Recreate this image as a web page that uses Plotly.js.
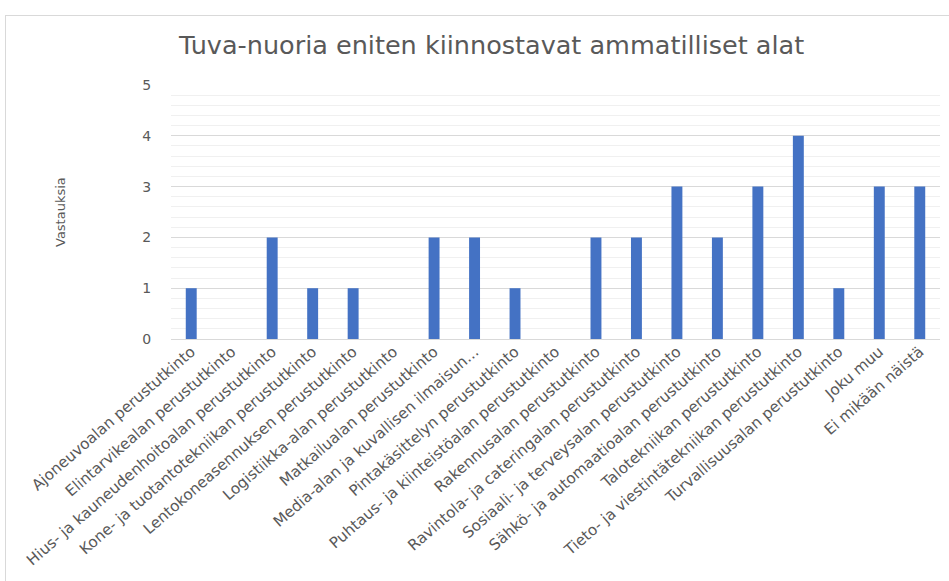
<!DOCTYPE html>
<html lang="fi">
<head>
    <meta charset="UTF-8">
    <title>Tuva-nuoria eniten kiinnostavat ammatilliset alat</title>
    <script src="https://cdn.plot.ly/plotly-3.0.1.min.js"></script>
    <style>
        body, html {
            margin: 0;
            padding: 0;
            background: white;
        }
        #chart {
            width: 949px;
            height: 581px;
        }
        .frame {
            position: absolute;
            left: 5px;
            top: 15px;
            width: 1000px;
            height: 700px;
            border: 1px solid #d9d9d9;
            pointer-events: none;
        }
    </style>
</head>
<body>
    <div id="chart"></div>
    <div class="frame"></div>
    <script>
        const categories = [
            'Ajoneuvoalan perustutkinto',
            'Elintarvikealan perustutkinto',
            'Hius- ja kauneudenhoitoalan perustutkinto',
            'Kone- ja tuotantotekniikan perustutkinto',
            'Lentokoneasennuksen perustutkinto',
            'Logistiikka-alan perustutkinto',
            'Matkailualan perustutkinto',
            'Media-alan ja kuvallisen ilmaisun...',
            'Pintakäsittelyn perustutkinto',
            'Puhtaus- ja kiinteistöalan perustutkinto',
            'Rakennusalan perustutkinto',
            'Ravintola- ja cateringalan perustutkinto',
            'Sosiaali- ja terveysalan perustutkinto',
            'Sähkö- ja automaatioalan perustutkinto',
            'Talotekniikan perustutkinto',
            'Tieto- ja viestintätekniikan perustutkinto',
            'Turvallisuusalan perustutkinto',
            'Joku muu',
            'Ei mikään näistä'
        ];
        const answers = [1, 0, 2, 1, 1, 0, 2, 2, 1, 0, 2, 2, 3, 2, 3, 4, 1, 3, 3];

        // wide face: the reference text is stretched sideways
        const font = '"DejaVu Sans", sans-serif';
        const grey = '#595959';

        const data = [{
            type: 'bar',
            x: categories,
            y: answers,
            marker: {color: '#4472c4'},
            hoverinfo: 'x+y'
        }];

        const layout = {
            width: 949,
            height: 581,
            margin: {l: 171, r: 9, t: 85, b: 242},
            paper_bgcolor: 'white',
            plot_bgcolor: 'white',
            font: {family: font, color: grey, size: 13},
            showlegend: false,
            bargap: 0.73,
            title: {
                text: 'Tuva-nuoria eniten kiinnostavat ammatilliset alat',
                font: {family: font, size: 25.5, color: grey},
                x: 0.518,
                xanchor: 'center',
                y: 0.923,
                yanchor: 'middle'
            },
            xaxis: {
                type: 'category',
                tickangle: -41,
                tickfont: {size: 15.2, color: grey},
                showgrid: false,
                showline: false,
                ticks: '',
                automargin: false
            },
            yaxis: {
                range: [0, 5],
                dtick: 1,
                tickfont: {size: 14, color: grey},
                gridcolor: '#d9d9d9',
                gridwidth: 1,
                zeroline: true,
                zerolinecolor: '#d9d9d9',
                zerolinewidth: 1,
                ticks: 'outside',
                ticklen: 16,
                tickcolor: 'rgba(0,0,0,0)',
                minor: {dtick: 0.2, showgrid: true, gridcolor: '#f0f0f0', gridwidth: 1},
                automargin: false
            },
            annotations: [{
                text: 'Vastauksia',
                xref: 'paper',
                yref: 'paper',
                x: (60 - 171) / 769,
                y: 0.5,
                xanchor: 'center',
                yanchor: 'middle',
                textangle: -90,
                showarrow: false,
                font: {family: font, size: 13, color: grey}
            }]
        };

        Plotly.newPlot('chart', data, layout, {displayModeBar: false, staticPlot: true});
    </script>
</body>
</html>
